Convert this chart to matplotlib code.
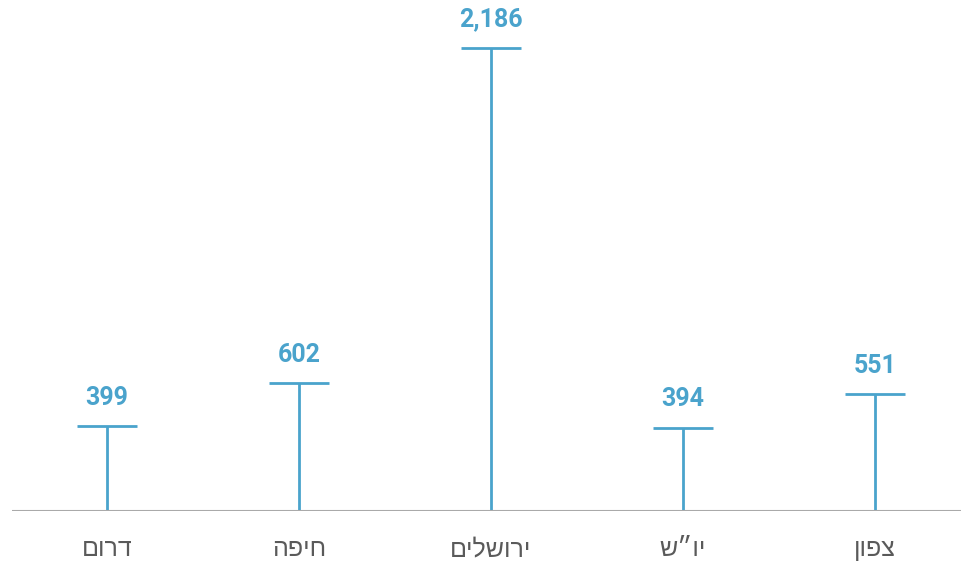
import matplotlib
matplotlib.use("Agg")
import matplotlib.pyplot as plt

categories = ["דרום", "חיפה", "ירושלים", "יו״ש", "צפון"]
values = [399, 602, 2186, 394, 551]
value_labels = ["399", "602", "2,186", "394", "551"]

num_fam = ["Roboto", "DejaVu Sans"]
heb_fam = ["Liberation Sans", "DejaVu Sans"]

color = "#4aa3cc"
fig = plt.figure(figsize=(9.62, 5.62), dpi=100)
ax = fig.add_axes([12/962, 51/562, 950/962, 511/562])

x = list(range(len(categories)))
ax.vlines(x, 0, values, color=color, lw=2)
ax.hlines(values, [i - 0.157 for i in x], [i + 0.157 for i in x], color=color, lw=2)
for i, v, lab in zip(x, values, value_labels):
    ax.annotate(lab, (i, v), xytext=(0, 12), textcoords="offset points",
                ha="center", va="bottom", color=color, fontsize=18,
                fontweight="bold", family=num_fam)

ax.set_xlim(-0.495, 4.453)
ax.set_ylim(0, 2186 * 511 / 463)
ax.axhline(0, color="#aaaaaa", lw=1.5)
for s in ax.spines.values():
    s.set_visible(False)
ax.set_yticks([])
ax.set_xticks(x)
ax.set_xticklabels([c[::-1] for c in categories], fontsize=18, color="#5a5a5a",
                   family=heb_fam)
ax.tick_params(axis="x", length=0, pad=19)

fig.savefig("out.png", dpi=100)
